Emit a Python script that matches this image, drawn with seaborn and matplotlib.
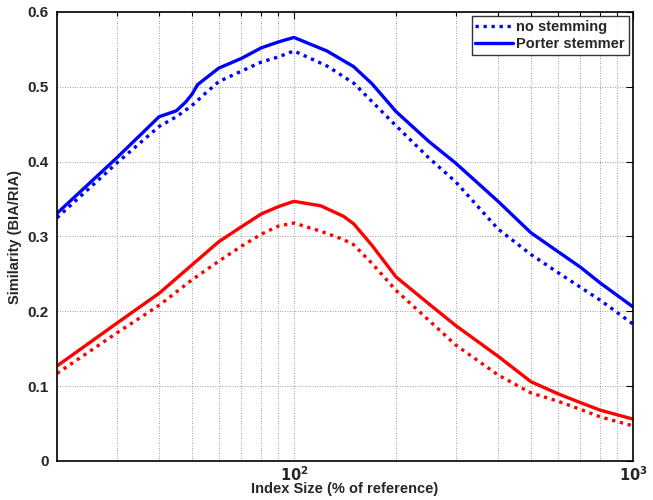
import numpy as np
import pandas as pd
import matplotlib
matplotlib.use('Agg')
import matplotlib.pyplot as plt
import matplotlib.ticker as mticker
import seaborn as sns

# ----------------------------------------------------------------------------
# Data (index size in % of reference, similarity BIA/RIA)

size_blue_solid = [20, 30, 40, 45, 48, 50, 52, 60, 70, 80, 90, 100, 125, 150,
                   170, 200, 250, 300, 400, 500, 600, 700, 800, 1000]
blue_solid = [0.331, 0.405, 0.460, 0.468, 0.480, 0.490, 0.503, 0.525, 0.538,
              0.552, 0.560, 0.566, 0.548, 0.527, 0.504, 0.467, 0.427, 0.398,
              0.347, 0.305, 0.280, 0.259, 0.238, 0.206]

size_blue_dot = [20, 30, 40, 45, 50, 55, 60, 70, 80, 90, 100, 125, 150, 200,
                 250, 300, 400, 500, 600, 800, 1000]
blue_dot = [0.325, 0.398, 0.447, 0.460, 0.475, 0.492, 0.507, 0.521, 0.533,
            0.540, 0.548, 0.528, 0.505, 0.448, 0.405, 0.373, 0.310, 0.276,
            0.252, 0.215, 0.183]

size_red = [20, 30, 40, 50, 60, 70, 80, 90, 100, 120, 140, 150, 170, 200,
            250, 300, 400, 500, 600, 700, 800, 1000]
red_solid = [0.127, 0.184, 0.224, 0.262, 0.293, 0.313, 0.330, 0.340, 0.347,
             0.341, 0.327, 0.317, 0.288, 0.246, 0.210, 0.181, 0.140, 0.106,
             0.090, 0.078, 0.068, 0.056]
red_dot = [0.117, 0.171, 0.208, 0.242, 0.267, 0.287, 0.303, 0.314, 0.318,
           0.307, 0.296, 0.289, 0.264, 0.228, 0.188, 0.155, 0.115, 0.091,
           0.080, 0.069, 0.059, 0.047]

# ----------------------------------------------------------------------------

sns.set_style('white')
plt.rcParams['font.family'] = ['Liberation Sans', 'DejaVu Sans']
plt.rcParams['font.weight'] = 'bold'
plt.rcParams['axes.labelweight'] = 'bold'
plt.rcParams['mathtext.default'] = 'bf'

fig = plt.figure(figsize=(6.53, 5.0), dpi=100)
ax = fig.add_axes([0.0873, 0.078, 0.882, 0.898])

dotted = (0, (1.0, 1.4))
lw = 2.4

sns.lineplot(x=size_blue_dot, y=blue_dot, ax=ax, color='#0000ff', lw=lw,
             linestyle=dotted, label='no stemming')
sns.lineplot(x=size_blue_solid, y=blue_solid, ax=ax, color='#0000ff', lw=lw,
             label='Porter stemmer')
sns.lineplot(x=size_red, y=red_dot, ax=ax, color='#ff0000', lw=lw,
             linestyle=dotted)
sns.lineplot(x=size_red, y=red_solid, ax=ax, color='#ff0000', lw=lw)

ax.set_xscale('log')
ax.set_xlim(20, 1000)
ax.set_ylim(0, 0.6)
ax.xaxis.set_major_locator(mticker.FixedLocator([100, 1000]))
ax.xaxis.set_major_formatter(mticker.FixedFormatter(['$10^2$', '$10^3$']))
ax.xaxis.set_minor_locator(mticker.LogLocator(base=10, subs=np.arange(2, 10)))
ax.xaxis.set_minor_formatter(mticker.NullFormatter())
ax.yaxis.set_major_locator(mticker.MultipleLocator(0.1))
ax.yaxis.set_major_formatter(mticker.FuncFormatter(
    lambda v, p: '0' if abs(v) < 1e-9 else format(v, '.1f')))

ax.grid(which='both', axis='x', color='#808080', ls=(0, (1, 2)), lw=0.6)
ax.grid(which='major', axis='y', color='#808080', ls=(0, (1, 2)), lw=0.6)

ax.tick_params(which='both', direction='in', top=True, right=True,
               labelsize=11, width=0.8, color='black')
ax.tick_params(which='major', length=5, pad=6)
ax.tick_params(axis='x', which='major', pad=3, labelsize=10.5)
ax.tick_params(which='minor', length=3)
for lab in ax.get_xticklabels() + ax.get_yticklabels():
    lab.set_fontweight('bold')
for sp in ax.spines.values():
    sp.set_visible(True)
    sp.set_color('black')
    sp.set_linewidth(1.2)

ax.set_xlabel('Index Size (% of reference)', fontsize=10.5, fontweight='bold',
              labelpad=-1)
ax.set_ylabel('Similarity (BIA/RIA)', fontsize=10.5, fontweight='bold',
              labelpad=4)

leg = ax.legend(loc='upper right', fontsize=10.5, frameon=True, fancybox=False,
                borderpad=0.25, labelspacing=0.2, handlelength=2.6,
                handletextpad=0.2, borderaxespad=0.3)
leg.get_frame().set_edgecolor('black')
leg.get_frame().set_linewidth(1.0)
for t in leg.get_texts():
    t.set_fontweight('bold')

fig.savefig('out.png', dpi=100)
plt.close(fig)
